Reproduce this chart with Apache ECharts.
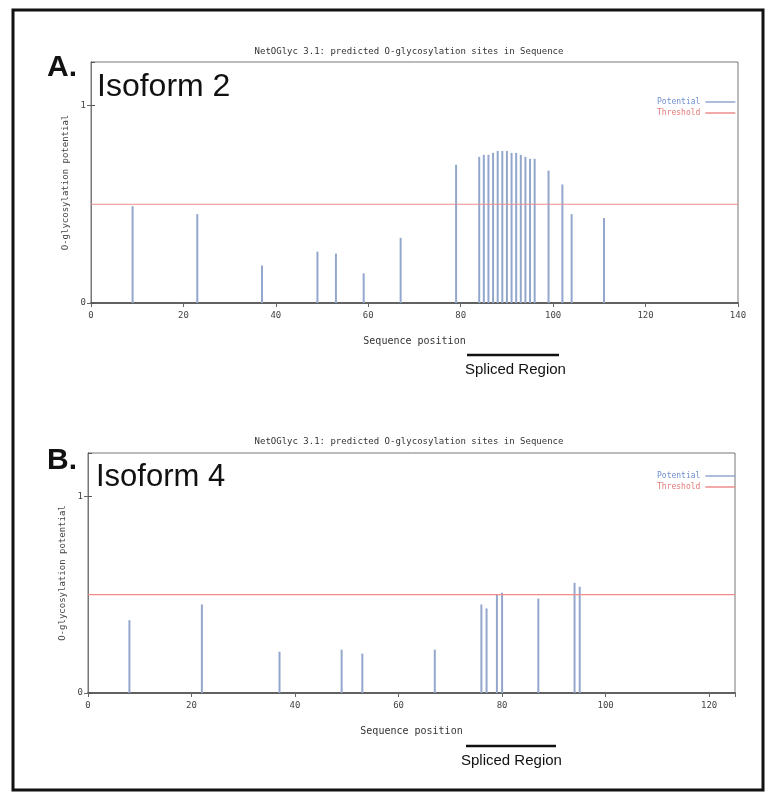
<!DOCTYPE html>
<html>
<head>
    <meta charset="UTF-8">
    <title>NetOGlyc 3.1 predicted O-glycosylation sites</title>
    <!-- ECharts -->
    <script src="https://cdn.jsdelivr.net/npm/echarts@6/dist/echarts.min.js"></script>
    <style>
        html, body { margin: 0; padding: 0; background: #fff; }
        #main { width: 768px; height: 797px; }
    </style>
</head>
<body>
<div id="main"></div>
<script type="text/javascript">
    // Isoform 2: sequence position / O-glycosylation potential
    var posA = [9, 23, 37, 49, 53, 59, 67, 79, 84, 85, 86, 87, 88, 89, 90, 91, 92, 93, 94, 95, 96, 99, 102, 104, 111];
    var valA = [0.49, 0.45, 0.19, 0.26, 0.25, 0.15, 0.33, 0.70, 0.74, 0.75, 0.75, 0.76, 0.77, 0.77, 0.77, 0.76, 0.76, 0.75, 0.74, 0.73, 0.73, 0.67, 0.60, 0.45, 0.43];
    // Isoform 4
    var posB = [8, 22, 37, 49, 53, 67, 76, 77, 79, 80, 87, 94, 95];
    var valB = [0.37, 0.45, 0.21, 0.22, 0.20, 0.22, 0.45, 0.43, 0.50, 0.51, 0.48, 0.56, 0.54];
    var threshold = 0.5;
    var lengthA = 140;
    var lengthB = 125;
    var xTicks = 20;

    var mono = 'DejaVu Sans Mono';
    var barColor = '#93a7cc';
    var thrColor = '#ee8c8c';

    function pairs(xs, ys) {
        var out = [];
        for (var i = 0; i < xs.length; i++) out.push([xs[i], ys[i]]);
        return out;
    }

    function xAxes(grid, max, showMax) {
        return [{
            type: 'value', gridIndex: grid, min: 0, max: max, interval: xTicks,
            name: 'Sequence position', nameLocation: 'middle', nameGap: 33,
            nameTextStyle: { fontFamily: mono, fontSize: 10, color: '#333' },
            axisLine: { lineStyle: { color: '#444', width: 1.5 } },
            axisTick: { length: 4, lineStyle: { color: '#444' } },
            axisLabel: { fontFamily: mono, fontSize: 9, color: '#444', margin: 8, showMaxLabel: showMax },
            splitLine: { show: false }
        }, {
            type: 'value', gridIndex: grid, position: 'top', min: 0, max: max, interval: xTicks,
            axisLine: { show: false },
            axisTick: { inside: true, length: 4, lineStyle: { color: '#666' } },
            axisLabel: { show: false },
            splitLine: { show: false }
        }];
    }

    function yAxes(grid) {
        return [{
            type: 'value', gridIndex: grid, min: 0, max: 1.22, interval: 1,
            name: 'O-glycosylation potential', nameLocation: 'middle', nameGap: 16,
            nameTextStyle: { fontFamily: mono, fontSize: 9, color: '#444' },
            axisLine: { show: true, lineStyle: { color: '#666', width: 1 } },
            axisTick: { length: 4, lineStyle: { color: '#666' } },
            axisLabel: { fontFamily: mono, fontSize: 9, color: '#444', margin: 5, showMaxLabel: false },
            splitLine: { show: false }
        }, {
            type: 'value', gridIndex: grid, position: 'right', min: 0, max: 1.22, interval: 1,
            axisLine: { show: true, lineStyle: { color: '#777' } },
            axisTick: { show: true, length: 4, lineStyle: { color: '#555' } },
            axisLabel: { show: false },
            splitLine: { show: false }
        }];
    }

    function legendFor(top) {
        return {
            left: 652, top: top, orient: 'vertical', align: 'right',
            itemWidth: 30, itemHeight: 1.5, itemGap: 3,
            textStyle: { fontFamily: mono, fontSize: 8 },
            data: [
                { name: 'Potential', icon: 'rect', textStyle: { color: '#6f90cf' } },
                { name: 'Threshold', icon: 'rect', textStyle: { color: '#e27a7a' } }
            ]
        };
    }

    var chart = echarts.init(document.getElementById('main'));
    chart.setOption({
        animation: false,
        backgroundColor: '#fff',
        title: [
            { text: 'NetOGlyc 3.1: predicted O-glycosylation sites in Sequence', left: 404, top: 42, textAlign: 'center',
              textStyle: { fontFamily: mono, fontSize: 9, fontWeight: 'normal', color: '#333' } },
            { text: 'NetOGlyc 3.1: predicted O-glycosylation sites in Sequence', left: 404, top: 432, textAlign: 'center',
              textStyle: { fontFamily: mono, fontSize: 9, fontWeight: 'normal', color: '#333' } }
        ],
        legend: [legendFor(93), legendFor(467)],
        grid: [
            { left: 91, top: 62, width: 647, height: 241, show: true, borderColor: '#777', borderWidth: 1 },
            { left: 88, top: 453, width: 647, height: 240, show: true, borderColor: '#777', borderWidth: 1 }
        ],
        xAxis: xAxes(0, lengthA, true).concat(xAxes(1, lengthB, false)),
        yAxis: yAxes(0).concat(yAxes(1)),
        series: [
            { name: 'Potential', type: 'bar', xAxisIndex: 0, yAxisIndex: 0, barWidth: 2,
              itemStyle: { color: barColor }, data: pairs(posA, valA) },
            { name: 'Threshold', type: 'line', xAxisIndex: 0, yAxisIndex: 0, showSymbol: false, symbol: 'none',
              lineStyle: { color: thrColor, width: 1.2 }, itemStyle: { color: thrColor },
              data: [[0, threshold], [lengthA, threshold]] },
            { name: 'Potential', type: 'bar', xAxisIndex: 2, yAxisIndex: 2, barWidth: 2,
              itemStyle: { color: barColor }, data: pairs(posB, valB) },
            { name: 'Threshold', type: 'line', xAxisIndex: 2, yAxisIndex: 2, showSymbol: false, symbol: 'none',
              lineStyle: { color: thrColor, width: 1.2 }, itemStyle: { color: thrColor },
              data: [[0, threshold], [lengthB, threshold]] }
        ],
        graphic: [
            // outer frame of the figure
            { type: 'rect', shape: { x: 13, y: 10, width: 750, height: 780 },
              style: { fill: 'none', stroke: '#111', lineWidth: 3 } },
            { type: 'text', left: 47, top: 53, style: { text: 'A.', font: 'bold 30px "Liberation Sans"', fill: '#111' } },
            { type: 'text', left: 97, top: 71, style: { text: 'Isoform 2', font: '32px "Liberation Sans"', fill: '#111' } },
            { type: 'text', left: 47, top: 446, style: { text: 'B.', font: 'bold 30px "Liberation Sans"', fill: '#111' } },
            { type: 'text', left: 96, top: 462, style: { text: 'Isoform 4', font: '31px "Liberation Sans"', fill: '#111' } },
            // spliced region markers
            { type: 'line', shape: { x1: 467, y1: 355, x2: 559, y2: 355 }, style: { stroke: '#111', lineWidth: 2.5 } },
            { type: 'text', left: 465, top: 362, style: { text: 'Spliced Region', font: '15px "Liberation Sans"', fill: '#111' } },
            { type: 'line', shape: { x1: 466, y1: 746, x2: 556, y2: 746 }, style: { stroke: '#111', lineWidth: 2.5 } },
            { type: 'text', left: 461, top: 753, style: { text: 'Spliced Region', font: '15px "Liberation Sans"', fill: '#111' } }
        ]
    });
</script>
</body>
</html>
